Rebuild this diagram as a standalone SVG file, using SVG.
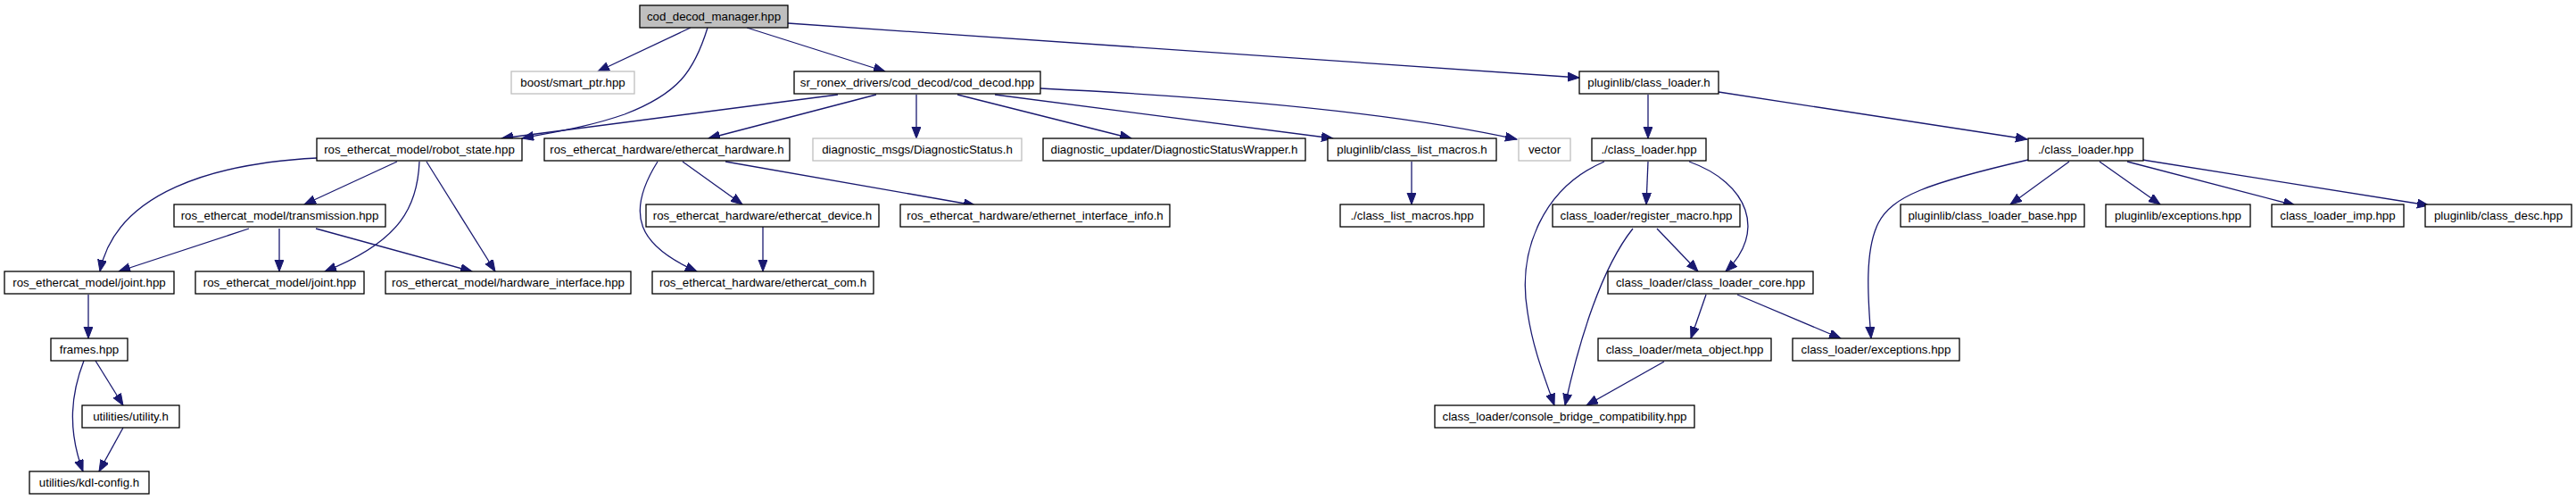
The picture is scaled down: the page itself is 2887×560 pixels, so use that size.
<svg xmlns="http://www.w3.org/2000/svg" width="2887" height="560" viewBox="0 0 2887 560">
<defs>
<marker id="arr" markerUnits="userSpaceOnUse" markerWidth="14" markerHeight="11" refX="13" refY="5" orient="auto">
<path d="M0,0 L13,5 L0,10 z" fill="#191970" stroke="#191970" stroke-width="1"/>
</marker>
</defs>
<style>
.n rect{fill:#ffffff;stroke:#000000;stroke-width:1.3}
.n.g rect{stroke:#bfbfbf}
.n.root rect{fill:#bfbfbf}
.n text{font-family:"Liberation Sans",Arial,sans-serif;font-size:13.3px;fill:#000000;text-anchor:middle}
.e path{fill:none;stroke:#191970;stroke-width:1.3;marker-end:url(#arr)}
</style>
<rect width="2887" height="560" fill="#ffffff"/>
<g id="edges" class="e">
<path d="M774,31 L670,80"/>
<path d="M793,31 C778,80 760,105 700,128 C660,142 620,148 585,155"/>
<path d="M837,31 L992,80"/>
<path d="M883,26 L1770,87"/>
<path d="M939,106 L562,155"/>
<path d="M982,106 L794,155"/>
<path d="M1027,106 L1027,155"/>
<path d="M1073,106 L1268,155"/>
<path d="M1115,106 L1494,155"/>
<path d="M1166,99 C1350,108 1560,125 1700,156"/>
<path d="M1847,106 L1847,155"/>
<path d="M1926,103 L2272,156"/>
<path d="M355,177 C240,183 130,215 112,304"/>
<path d="M445,181 L341,229"/>
<path d="M470,181 C468,230 450,270 364,304"/>
<path d="M478,181 L555,304"/>
<path d="M737,181 C700,240 715,275 781,304"/>
<path d="M765,181 L832,229"/>
<path d="M813,181 L1093,230"/>
<path d="M279,256 L133,304"/>
<path d="M313,256 L313,304"/>
<path d="M354,256 L529,304"/>
<path d="M855,254 L855,304"/>
<path d="M99,330 L99,379"/>
<path d="M94,404 C80,440 75,480 93,528"/>
<path d="M107,404 L138,454"/>
<path d="M138,479 L111,528"/>
<path d="M1582,181 L1582,229"/>
<path d="M1798,181 C1730,210 1700,280 1712,350 C1718,390 1730,420 1742,454"/>
<path d="M1847,181 L1845,229"/>
<path d="M1893,181 C1960,205 1980,260 1934,304"/>
<path d="M1830,256 C1795,300 1770,380 1754,454"/>
<path d="M1857,256 L1903,304"/>
<path d="M1912,330 L1895,379"/>
<path d="M1947,330 L2063,379"/>
<path d="M1865,405 L1778,454"/>
<path d="M2273,179 C2160,205 2120,220 2105,250 C2090,280 2093,330 2097,379"/>
<path d="M2319,181 L2253,229"/>
<path d="M2353,181 L2421,229"/>
<path d="M2384,181 L2572,230"/>
<path d="M2401,179 L2722,230"/>
</g>
<g id="n0" class="n root"><rect x="717" y="6" width="166" height="25"/><text x="800" y="23">cod_decod_manager.hpp</text></g>
<g id="n1" class="n g"><rect x="573" y="80" width="138" height="25"/><text x="642" y="97">boost/smart_ptr.hpp</text></g>
<g id="n2" class="n"><rect x="890" y="80" width="276" height="25"/><text x="1028" y="97">sr_ronex_drivers/cod_decod/cod_decod.hpp</text></g>
<g id="n3" class="n"><rect x="1770" y="80" width="156" height="25"/><text x="1848" y="97">pluginlib/class_loader.h</text></g>
<g id="n4" class="n"><rect x="355" y="155" width="230" height="25"/><text x="470" y="172">ros_ethercat_model/robot_state.hpp</text></g>
<g id="n5" class="n"><rect x="610" y="155" width="275" height="25"/><text x="747.5" y="172">ros_ethercat_hardware/ethercat_hardware.h</text></g>
<g id="n6" class="n g"><rect x="911" y="155" width="234" height="25"/><text x="1028" y="172">diagnostic_msgs/DiagnosticStatus.h</text></g>
<g id="n7" class="n"><rect x="1169" y="155" width="294" height="25"/><text x="1316" y="172">diagnostic_updater/DiagnosticStatusWrapper.h</text></g>
<g id="n8" class="n"><rect x="1488" y="155" width="189" height="25"/><text x="1582.5" y="172">pluginlib/class_list_macros.h</text></g>
<g id="n9" class="n g"><rect x="1702" y="155" width="58" height="25"/><text x="1731" y="172">vector</text></g>
<g id="n10" class="n"><rect x="1784" y="155" width="128" height="25"/><text x="1848" y="172">./class_loader.hpp</text></g>
<g id="n11" class="n"><rect x="2273" y="155" width="129" height="25"/><text x="2337.5" y="172">./class_loader.hpp</text></g>
<g id="n12" class="n"><rect x="195" y="229" width="237" height="25"/><text x="313.5" y="246">ros_ethercat_model/transmission.hpp</text></g>
<g id="n13" class="n"><rect x="724" y="229" width="261" height="25"/><text x="854.5" y="246">ros_ethercat_hardware/ethercat_device.h</text></g>
<g id="n14" class="n"><rect x="1009" y="229" width="302" height="25"/><text x="1160" y="246">ros_ethercat_hardware/ethernet_interface_info.h</text></g>
<g id="n15" class="n"><rect x="1502" y="229" width="161" height="25"/><text x="1582.5" y="246">./class_list_macros.hpp</text></g>
<g id="n16" class="n"><rect x="1740" y="229" width="210" height="25"/><text x="1845" y="246">class_loader/register_macro.hpp</text></g>
<g id="n17" class="n"><rect x="2130" y="229" width="206" height="25"/><text x="2233" y="246">pluginlib/class_loader_base.hpp</text></g>
<g id="n18" class="n"><rect x="2360" y="229" width="162" height="25"/><text x="2441" y="246">pluginlib/exceptions.hpp</text></g>
<g id="n19" class="n"><rect x="2546" y="229" width="148" height="25"/><text x="2620" y="246">class_loader_imp.hpp</text></g>
<g id="n20" class="n"><rect x="2718" y="229" width="164" height="25"/><text x="2800" y="246">pluginlib/class_desc.hpp</text></g>
<g id="n21" class="n"><rect x="5" y="304" width="190" height="25"/><text x="100" y="321">ros_ethercat_model/joint.hpp</text></g>
<g id="n22" class="n"><rect x="219" y="304" width="189" height="25"/><text x="313.5" y="321">ros_ethercat_model/joint.hpp</text></g>
<g id="n23" class="n"><rect x="432" y="304" width="275" height="25"/><text x="569.5" y="321">ros_ethercat_model/hardware_interface.hpp</text></g>
<g id="n24" class="n"><rect x="731" y="304" width="248" height="25"/><text x="855" y="321">ros_ethercat_hardware/ethercat_com.h</text></g>
<g id="n25" class="n"><rect x="1802" y="304" width="230" height="25"/><text x="1917" y="321">class_loader/class_loader_core.hpp</text></g>
<g id="n26" class="n"><rect x="57" y="379" width="86" height="25"/><text x="100" y="396">frames.hpp</text></g>
<g id="n27" class="n"><rect x="1791" y="379" width="194" height="25"/><text x="1888" y="396">class_loader/meta_object.hpp</text></g>
<g id="n28" class="n"><rect x="2009" y="379" width="187" height="25"/><text x="2102.5" y="396">class_loader/exceptions.hpp</text></g>
<g id="n29" class="n"><rect x="92" y="454" width="109" height="25"/><text x="146.5" y="471">utilities/utility.h</text></g>
<g id="n30" class="n"><rect x="1608" y="454" width="291" height="25"/><text x="1753.5" y="471">class_loader/console_bridge_compatibility.hpp</text></g>
<g id="n31" class="n"><rect x="33" y="528" width="134" height="25"/><text x="100" y="545">utilities/kdl-config.h</text></g>
</svg>
